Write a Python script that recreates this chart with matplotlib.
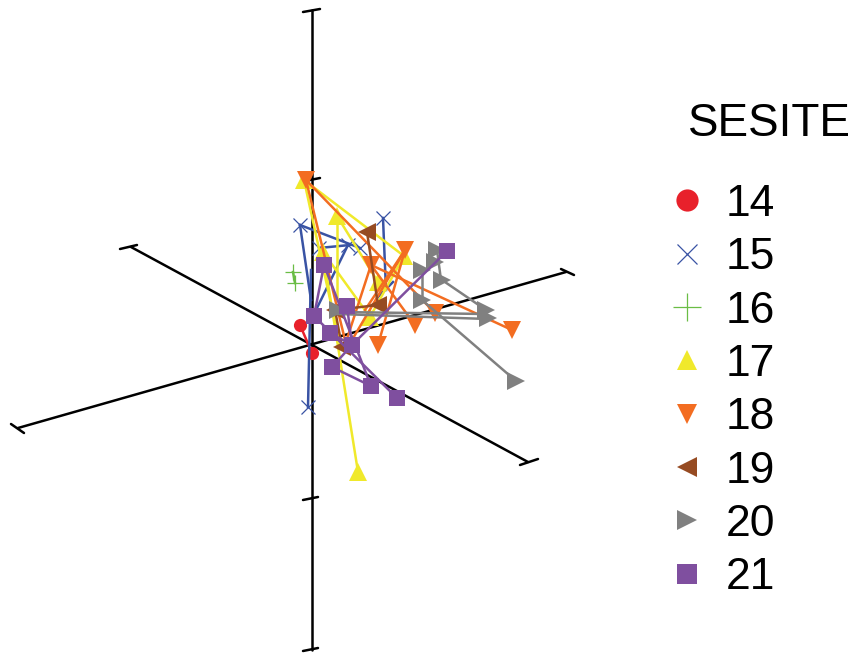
import matplotlib
matplotlib.use("Agg")
import matplotlib.pyplot as plt
from matplotlib.lines import Line2D

plt.rcParams['font.family'] = ['Liberation Sans', 'DejaVu Sans']

# Projected 3D scatter, in image pixels (x, y).
axis_lines = [((312, 10), (312, 650)), ((131, 247), (528, 462)), ((18, 428), (566, 272))]
axis_ticks = [((303, 12), (320, 9)), ((303, 500), (318, 497)), ((303, 651), (318, 648)),
              ((305, 181), (320, 178)), ((120, 249), (137, 245)), ((520, 465), (538, 459)),
              ((11, 424), (24, 433)), ((561, 269), (574, 275))]

sites = ["14", "15", "16", "17", "18", "19", "20", "21"]
colors = ["#E8212B", "#3953A4", "#6ABD45", "#F0E92B", "#F36D21", "#964B22", "#808080", "#7F4F9F"]
markers = ["o", "x", "+", "^", "v", "<", ">", "s"]
legend_sizes = [16, 14, 20, 15, 15, 15, 15, 15]
point_sizes = [9.5, 9.5, 12, 13.5, 13.5, 13.5, 13.5, 12]
mark_lw = [0, 0.9, 0.9, 0, 0, 0, 0, 0]

pts14 = [(300, 325), (312, 353)]
seg14 = [((300, 325), (312, 353))]
pts15 = [(300, 225), (383, 218), (308, 407), (319, 248), (360, 248), (348, 245)]
seg15 = [((300, 225), (360, 248)), ((300, 225), (311, 300)), ((383, 218), (386, 290)),
         ((308, 407), (311, 270)), ((319, 248), (350, 245)), ((348, 245), (315, 312)),
         ((393, 282), (378, 297))]
pts16 = [(293, 272), (295, 283)]
seg16 = [((293, 272), (295, 283))]
pts17 = [(304, 180), (337, 216), (323, 252), (358, 472), (404, 256), (378, 282), (370, 317)]
seg17 = [((304, 180), (404, 256)), ((304, 180), (340, 345)), ((337, 216), (337, 300)),
         ((337, 216), (378, 282)), ((323, 252), (358, 472)), ((404, 256), (370, 317)),
         ((323, 252), (370, 317))]
pts18 = [(306, 180), (405, 250), (371, 265), (378, 345), (415, 325), (435, 313), (512, 330)]
seg18 = [((371, 265), (512, 330)), ((306, 180), (345, 340)), ((306, 180), (435, 313)),
         ((405, 250), (352, 340)), ((405, 250), (378, 345)), ((405, 250), (365, 310)),
         ((371, 265), (415, 325)), ((371, 265), (345, 345))]
pts19 = [(367, 232), (378, 305), (335, 310), (342, 347)]
seg19 = [((367, 232), (378, 305)), ((335, 310), (378, 305)), ((335, 310), (342, 347))]
pts20 = [(338, 310), (422, 270), (437, 250), (435, 262), (442, 280), (422, 300), (486, 310), (488, 318), (516, 381)]
seg20 = [((338, 312), (486, 314)), ((338, 314), (488, 319)), ((442, 280), (486, 310)),
         ((437, 250), (441, 280)), ((422, 270), (422, 300)), ((422, 300), (516, 381))]
pts21 = [(447, 251), (324, 265), (347, 306), (314, 316), (330, 333), (352, 345), (332, 367), (371, 386), (397, 398)]
seg21 = [((447, 251), (352, 345)), ((324, 265), (371, 386)), ((347, 306), (352, 345)),
         ((314, 316), (397, 398)), ((332, 367), (352, 345)), ((332, 367), (371, 386)),
         ((324, 265), (314, 316)), ((330, 333), (352, 345))]

all_pts = [pts14, pts15, pts16, pts17, pts18, pts19, pts20, pts21]
all_seg = [seg14, seg15, seg16, seg17, seg18, seg19, seg20, seg21]

fig = plt.figure(figsize=(8.53, 6.54), dpi=100)
ax = fig.add_axes([0, 0, 1, 1])
ax.set_xlim(0, 853)
ax.set_ylim(654, 0)
ax.axis("off")

for (a, b) in axis_lines + axis_ticks:
    ax.plot([a[0], b[0]], [a[1], b[1]], color="black", lw=1.8, solid_capstyle="round", zorder=1)

for i, (pts, segs) in enumerate(zip(all_pts, all_seg)):
    for (a, b) in segs:
        ax.plot([a[0], b[0]], [a[1], b[1]], color=colors[i], lw=1.8, zorder=2 + i)
    ax.plot([p[0] for p in pts], [p[1] for p in pts], ls="none", marker=markers[i],
            color=colors[i], ms=point_sizes[i], mew=mark_lw[i], zorder=2 + i)

handles = [Line2D([], [], ls="none", marker=m, color=c, ms=s, mew=w)
           for m, c, s, w in zip(markers, colors, legend_sizes, mark_lw)]

ax.legend(handles, sites, frameon=False, fontsize=32, loc="upper left",
          bbox_to_anchor=(665 / 853, 1 - 184 / 654), borderaxespad=0, borderpad=0,
          labelspacing=0.277, handlelength=1.0, handletextpad=0.36)
ax.text(688, 136, "SESITE", fontsize=33, color="black", ha="left", va="baseline")
fig.savefig("out.png", dpi=100)
